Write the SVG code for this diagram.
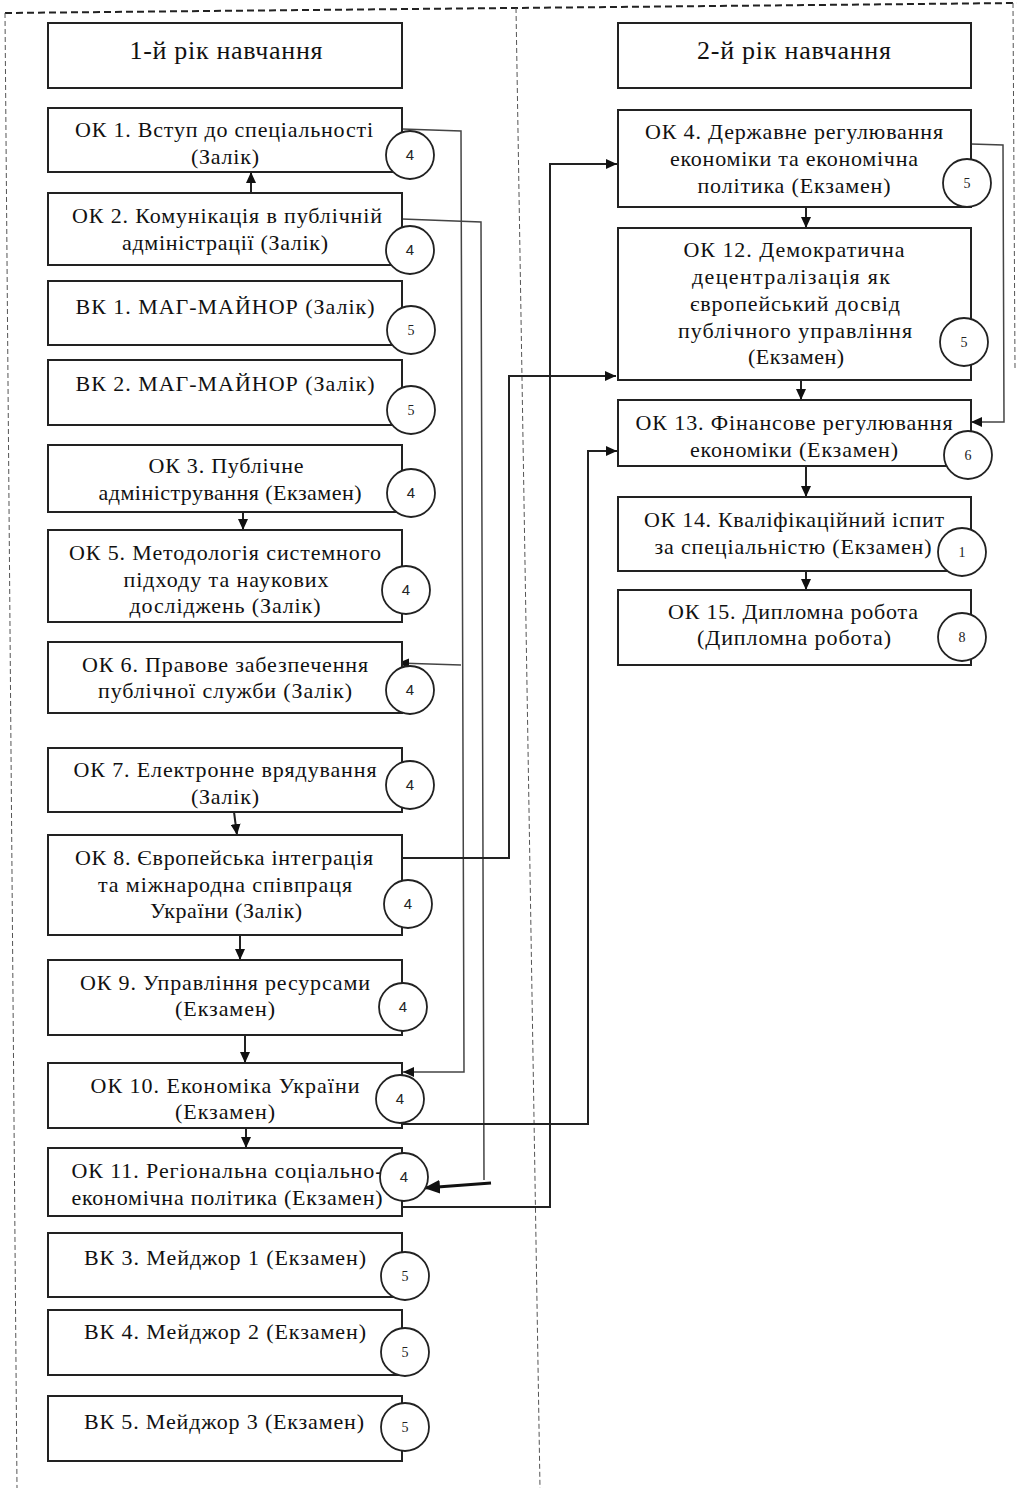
<svg xmlns="http://www.w3.org/2000/svg" width="1017" height="1488" viewBox="0 0 1017 1488">
<defs>
<style>
.box{fill:#fff;stroke:#222;stroke-width:2}
.c{fill:#fff;stroke:#222;stroke-width:1.8}
.t{font-family:"Liberation Serif","Times New Roman",serif;font-size:22px;fill:#111;text-anchor:middle}
.h{font-family:"Liberation Serif","Times New Roman",serif;font-size:26px;fill:#111;text-anchor:middle}
.ns{font-family:"Liberation Sans",Arial,sans-serif;font-size:15px;fill:#222;text-anchor:middle}
.nr{font-family:"Liberation Serif","Times New Roman",serif;font-size:14px;fill:#222;text-anchor:middle}
.frame{fill:none;stroke:#555;stroke-width:1;stroke-dasharray:5 3}
.ftop{fill:none;stroke:#222;stroke-width:2;stroke-dasharray:7 4}
.ln{fill:none;stroke:#222;stroke-width:2}
.lnt{fill:none;stroke:#444;stroke-width:1.5}
.lnk{fill:none;stroke:#111;stroke-width:3}
</style>
<marker id="ah" markerUnits="userSpaceOnUse" markerWidth="11" markerHeight="10" refX="11" refY="5" orient="auto">
<path d="M0,0 L11,5 L0,10 z" fill="#111"/>
</marker>
<marker id="ahb" markerUnits="userSpaceOnUse" markerWidth="16" markerHeight="14" refX="16" refY="7" orient="auto">
<path d="M0,0 L16,7 L0,14 z" fill="#111"/>
</marker>
</defs>
<rect width="1017" height="1488" fill="#fff"/>

<g id="frame">
<path class="ftop" d="M5,13 L1017,3"/>
<path class="frame" d="M5,13 L17,1488"/>
<path class="frame" d="M516,8 L540,1488"/>
<path class="frame" d="M1013,3 L1015,368"/>
</g>

<g id="connectors">
<path class="ln" marker-end="url(#ah)" d="M251,193 L251,172"/>
<path class="ln" marker-end="url(#ah)" d="M243,512 L243,530"/>
<path class="ln" marker-end="url(#ah)" d="M234,812 L237,835"/>
<path class="ln" marker-end="url(#ah)" d="M240,935 L240,960"/>
<path class="ln" marker-end="url(#ah)" d="M245,1035 L245,1063"/>
<path class="ln" marker-end="url(#ah)" d="M246,1128 L246,1148"/>
<path class="ln" marker-end="url(#ah)" d="M806,207 L806,228"/>
<path class="ln" marker-end="url(#ah)" d="M801,380 L801,400"/>
<path class="ln" marker-end="url(#ah)" d="M806,466 L806,497"/>
<path class="ln" marker-end="url(#ah)" d="M806,571 L806,590"/>
<path class="lnt" marker-end="url(#ah)" d="M402,129 L461,131 L464,1072 L403,1072"/>
<path class="lnt" marker-end="url(#ah)" d="M461,665 L398,663"/>
<path class="lnt" d="M402,219 L481,222 L484,1180"/>
<path class="lnk" marker-end="url(#ahb)" d="M491,1183 L424,1188"/>
<path class="ln" marker-end="url(#ah)" d="M402,858 L509,858 L509,376 L616,376"/>
<path class="ln" marker-end="url(#ah)" d="M402,1207 L550,1207 L550,164 L617,164"/>
<path class="ln" marker-end="url(#ah)" d="M402,1124 L588,1124 L588,451 L617,451"/>
<path class="lnt" marker-end="url(#ah)" d="M971,144 L1003,145 L1004,422 L971,422"/>
</g>

<g id="h1"><rect class="box" x="48" y="23" width="354" height="65"/><text class="h" x="226" y="59" textLength="193" lengthAdjust="spacing">1-й рік навчання</text></g>
<g id="h2"><rect class="box" x="618" y="23" width="353" height="65"/><text class="h" x="794" y="59" textLength="194" lengthAdjust="spacing">2-й рік навчання</text></g>

<g id="ok1"><rect class="box" x="48" y="108" width="354" height="64"/>
<text class="t" x="224" y="137" textLength="298" lengthAdjust="spacing">ОК 1. Вступ до спеціальності</text>
<text class="t" x="225" y="164" textLength="68" lengthAdjust="spacing">(Залік)</text>
<circle class="c" cx="410" cy="155" r="24"/><text class="ns" x="410" y="160">4</text></g>

<g id="ok2"><rect class="box" x="48" y="193" width="354" height="72"/>
<text class="t" x="227" y="223" textLength="310" lengthAdjust="spacing">ОК 2. Комунікація в публічній</text>
<text class="t" x="225" y="250" textLength="206" lengthAdjust="spacing">адміністрації (Залік)</text>
<circle class="c" cx="410" cy="250" r="24"/><text class="ns" x="410" y="255">4</text></g>

<g id="vk1"><rect class="box" x="48" y="281" width="354" height="64"/>
<text class="t" x="225" y="314" textLength="299" lengthAdjust="spacing">ВК 1. МАГ-МАЙНОР (Залік)</text>
<circle class="c" cx="411" cy="330" r="24"/><text class="nr" x="411" y="335">5</text></g>

<g id="vk2"><rect class="box" x="48" y="360" width="354" height="65"/>
<text class="t" x="225" y="391" textLength="299" lengthAdjust="spacing">ВК 2. МАГ-МАЙНОР (Залік)</text>
<circle class="c" cx="411" cy="410" r="24"/><text class="nr" x="411" y="415">5</text></g>

<g id="ok3"><rect class="box" x="48" y="445" width="354" height="67"/>
<text class="t" x="226" y="473" textLength="155" lengthAdjust="spacing">ОК 3. Публічне</text>
<text class="t" x="230" y="500" textLength="263" lengthAdjust="spacing">адміністрування (Екзамен)</text>
<circle class="c" cx="411" cy="493" r="24"/><text class="ns" x="411" y="498">4</text></g>

<g id="ok5"><rect class="box" x="48" y="530" width="354" height="92"/>
<text class="t" x="225" y="560" textLength="312" lengthAdjust="spacing">ОК 5. Методологія системного</text>
<text class="t" x="226" y="587" textLength="205" lengthAdjust="spacing">підходу та наукових</text>
<text class="t" x="225" y="613" textLength="191" lengthAdjust="spacing">досліджень (Залік)</text>
<circle class="c" cx="406" cy="590" r="24"/><text class="ns" x="406" y="595">4</text></g>

<g id="ok6"><rect class="box" x="48" y="642" width="354" height="71"/>
<text class="t" x="225" y="672" textLength="286" lengthAdjust="spacing">ОК 6. Правове забезпечення</text>
<text class="t" x="225" y="698" textLength="254" lengthAdjust="spacing">публічної служби (Залік)</text>
<circle class="c" cx="410" cy="690" r="24"/><text class="ns" x="410" y="695">4</text></g>

<g id="ok7"><rect class="box" x="48" y="748" width="354" height="64"/>
<text class="t" x="225" y="777" textLength="303" lengthAdjust="spacing">ОК 7. Електронне врядування</text>
<text class="t" x="225" y="804" textLength="68" lengthAdjust="spacing">(Залік)</text>
<circle class="c" cx="410" cy="785" r="24"/><text class="ns" x="410" y="790">4</text></g>

<g id="ok8"><rect class="box" x="48" y="835" width="354" height="100"/>
<text class="t" x="224" y="865" textLength="298" lengthAdjust="spacing">ОК 8. Європейська інтеграція</text>
<text class="t" x="225" y="892" textLength="254" lengthAdjust="spacing">та міжнародна співпраця</text>
<text class="t" x="226" y="918" textLength="152" lengthAdjust="spacing">України (Залік)</text>
<circle class="c" cx="408" cy="904" r="24"/><text class="ns" x="408" y="909">4</text></g>

<g id="ok9"><rect class="box" x="48" y="960" width="354" height="75"/>
<text class="t" x="225" y="990" textLength="290" lengthAdjust="spacing">ОК 9. Управління ресурсами</text>
<text class="t" x="225" y="1016" textLength="100" lengthAdjust="spacing">(Екзамен)</text>
<circle class="c" cx="403" cy="1007" r="24"/><text class="ns" x="403" y="1012">4</text></g>

<g id="ok10"><rect class="box" x="48" y="1063" width="354" height="65"/>
<text class="t" x="225" y="1093" textLength="269" lengthAdjust="spacing">ОК 10. Економіка України</text>
<text class="t" x="225" y="1119" textLength="100" lengthAdjust="spacing">(Екзамен)</text>
<circle class="c" cx="400" cy="1099" r="24"/><text class="ns" x="400" y="1104">4</text></g>

<g id="ok11"><rect class="box" x="48" y="1148" width="354" height="68"/>
<text class="t" x="227" y="1178" textLength="311" lengthAdjust="spacing">ОК 11. Регіональна соціально-</text>
<text class="t" x="227" y="1205" textLength="311" lengthAdjust="spacing">економічна політика (Екзамен)</text>
<circle class="c" cx="404" cy="1177" r="24"/><text class="ns" x="404" y="1182">4</text></g>

<g id="vk3"><rect class="box" x="48" y="1233" width="354" height="64"/>
<text class="t" x="225" y="1265" textLength="282" lengthAdjust="spacing">ВК 3. Мейджор 1 (Екзамен)</text>
<circle class="c" cx="405" cy="1276" r="24"/><text class="nr" x="405" y="1281">5</text></g>

<g id="vk4"><rect class="box" x="48" y="1310" width="354" height="65"/>
<text class="t" x="225" y="1339" textLength="282" lengthAdjust="spacing">ВК 4. Мейджор 2 (Екзамен)</text>
<circle class="c" cx="405" cy="1352" r="24"/><text class="nr" x="405" y="1357">5</text></g>

<g id="vk5"><rect class="box" x="48" y="1396" width="354" height="65"/>
<text class="t" x="224" y="1429" textLength="280" lengthAdjust="spacing">ВК 5. Мейджор 3 (Екзамен)</text>
<circle class="c" cx="405" cy="1427" r="24"/><text class="nr" x="405" y="1432">5</text></g>

<g id="ok4"><rect class="box" x="618" y="110" width="353" height="97"/>
<text class="t" x="794" y="139" textLength="298" lengthAdjust="spacing">ОК 4. Державне регулювання</text>
<text class="t" x="794" y="166" textLength="248" lengthAdjust="spacing">економіки та економічна</text>
<text class="t" x="794" y="193" textLength="193" lengthAdjust="spacing">політика (Екзамен)</text>
<circle class="c" cx="967" cy="183" r="24"/><text class="nr" x="967" y="188">5</text></g>

<g id="ok12"><rect class="box" x="618" y="228" width="353" height="152"/>
<text class="t" x="794" y="257" textLength="221" lengthAdjust="spacing">ОК 12. Демократична</text>
<text class="t" x="791" y="284" textLength="198" lengthAdjust="spacing">децентралізація як</text>
<text class="t" x="795" y="311" textLength="210" lengthAdjust="spacing">європейський досвід</text>
<text class="t" x="795" y="338" textLength="234" lengthAdjust="spacing">публічного управління</text>
<text class="t" x="796" y="364" textLength="96" lengthAdjust="spacing">(Екзамен)</text>
<circle class="c" cx="964" cy="342" r="24"/><text class="nr" x="964" y="347">5</text></g>

<g id="ok13"><rect class="box" x="618" y="400" width="353" height="66"/>
<text class="t" x="794" y="430" textLength="317" lengthAdjust="spacing">ОК 13. Фінансове регулювання</text>
<text class="t" x="794" y="457" textLength="208" lengthAdjust="spacing">економіки (Екзамен)</text>
<circle class="c" cx="968" cy="455" r="24"/><text class="nr" x="968" y="460">6</text></g>

<g id="ok14"><rect class="box" x="618" y="497" width="353" height="74"/>
<text class="t" x="794" y="527" textLength="300" lengthAdjust="spacing">ОК 14. Кваліфікаційний іспит</text>
<text class="t" x="793" y="554" textLength="277" lengthAdjust="spacing">за спеціальністю (Екзамен)</text>
<circle class="c" cx="962" cy="552" r="24"/><text class="nr" x="962" y="557">1</text></g>

<g id="ok15"><rect class="box" x="618" y="590" width="353" height="75"/>
<text class="t" x="793" y="619" textLength="250" lengthAdjust="spacing">ОК 15. Дипломна робота</text>
<text class="t" x="794" y="645" textLength="194" lengthAdjust="spacing">(Дипломна робота)</text>
<circle class="c" cx="962" cy="637" r="24"/><text class="nr" x="962" y="642">8</text></g>
</svg>
